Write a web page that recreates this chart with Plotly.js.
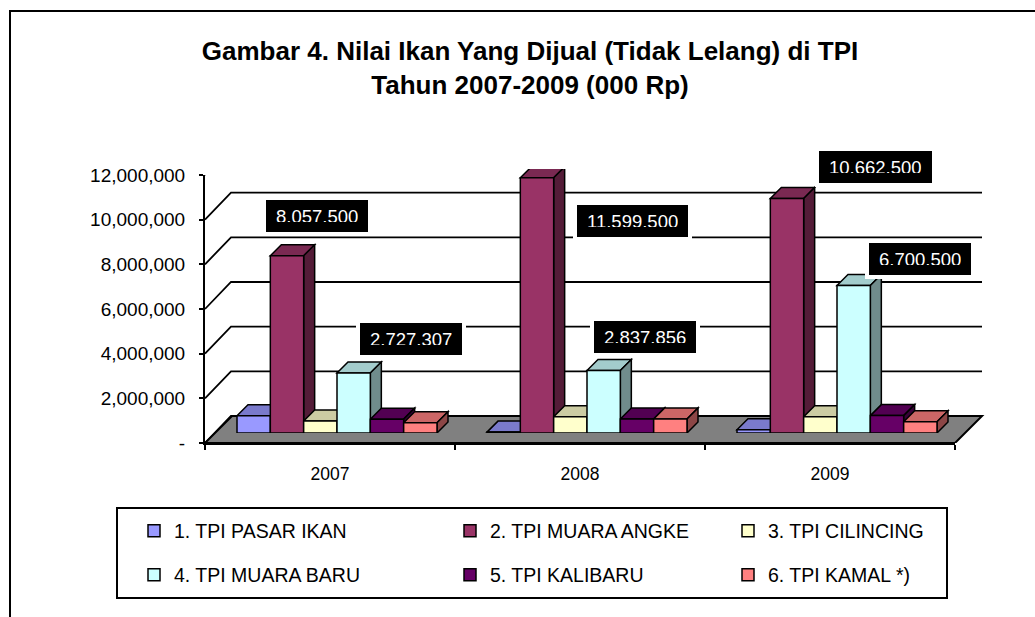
<!DOCTYPE html>
<html><head><meta charset="utf-8">
<script src="https://cdn.plot.ly/plotly-3.0.1.min.js"></script>
<style>html,body{margin:0;padding:0;background:#fff}#chart{width:1035px;height:617px}</style>
</head><body><div id="chart"></div>
<script>
// ---------- data ----------
const years = [2007, 2008, 2009];
const yearLabels = ['2007', '2008', '2009'];
const seriesNames = ['1. TPI PASAR IKAN', '2. TPI MUARA ANGKE', '3. TPI CILINCING',
                     '4. TPI MUARA BARU', '5. TPI KALIBARU', '6. TPI KAMAL *)'];
const pasarIkan  = [780000, 40000, 150000];
const muaraAngke = [8057500, 11599500, 10662500];
const cilincing  = [550000, 740000, 740000];
const muaraBaru  = [2727307, 2837856, 6700500];
const kalibaru   = [630000, 640000, 790000];
const kamal      = [470000, 640000, 510000];
const yTickVals  = [0, 2000000, 4000000, 6000000, 8000000, 10000000, 12000000];
const yTickText  = ['-', '2,000,000', '4,000,000', '6,000,000', '8,000,000', '10,000,000', '12,000,000'];
const labelledSeries = [1, 3];

// ---------- style / layout ----------
const series = [pasarIkan, muaraAngke, cilincing, muaraBaru, kalibaru, kamal];
const colors = ['#9999FF', '#993366', '#FFFFCC', '#CCFFFF', '#660066', '#FF8080'];
const W = 1035, H = 617;
const fx = p => p / W, fy = p => 1 - p / H;
const BAR = {x0: 212, x1: 962, y0: 433, y1: 169};
const FRONT = {x0: 205, x1: 955, y0: 443, y1: 175};
const WALL_D = 27, BACK_RIGHT = 982;
const D = 11;
const yMax = 12000000;
const groupW = 0.8, barW = groupW / series.length;
const pxPerYear = (BAR.x1 - BAR.x0) / years.length;
const barPx = barW * pxPerYear;
const pxPerUnit = (BAR.y0 - BAR.y1) / yMax;
const FONT = 'Liberation Sans, Arial, sans-serif';

function shade(hex, f) {
  const n = parseInt(hex.slice(1), 16);
  const r = Math.round(((n >> 16) & 255) * f), g = Math.round(((n >> 8) & 255) * f), b = Math.round((n & 255) * f);
  return `rgb(${r},${g},${b})`;
}
const fmt = v => String(v).replace(/\B(?=(\d{3})+(?!\d))/g, ',');

const legendPos = [[134, 531], [450, 531], [728, 531], [134, 575], [450, 575], [728, 575]];

const traces = series.map((vals, j) => ({
  type: 'bar', name: seriesNames[j], x: years, y: vals,
  marker: {color: colors[j], line: {color: '#000', width: 1.5}},
  legend: j === 0 ? 'legend' : 'legend' + (j + 1),
  hoverinfo: 'skip'
}));
traces.push({type: 'scatter', mode: 'markers', x: yearLabels, y: [null, null, null],
  xaxis: 'x2', yaxis: 'y2', showlegend: false, hoverinfo: 'skip'});

const shapes = [];
// frame
shapes.push({type: 'rect', xref: 'paper', yref: 'paper', x0: fx(10), x1: fx(1045), y0: fy(11), y1: fy(640),
  line: {color: '#000', width: 2}, layer: 'below'});
// back wall gridlines (diagonal + horizontal)
yTickVals.forEach(v => {
  shapes.push({type: 'path', xref: 'paper', yref: 'y2', xsizemode: 'pixel', ysizemode: 'pixel',
    xanchor: fx(FRONT.x0), yanchor: v,
    path: `M0,0 L${WALL_D - 1},${WALL_D} L${BACK_RIGHT - FRONT.x0},${WALL_D}`,
    line: {color: '#000', width: 1.8}, layer: 'below'});
});
// floor
shapes.push({type: 'path', xref: 'paper', yref: 'y2', xsizemode: 'pixel', ysizemode: 'pixel',
  xanchor: fx(FRONT.x0), yanchor: 0,
  path: `M0,0 L${FRONT.x1 - FRONT.x0},0 L${BACK_RIGHT - FRONT.x0},${WALL_D} L${WALL_D},${WALL_D} Z`,
  fillcolor: '#808080', line: {color: '#000', width: 2}, layer: 'below'});
// legend box
shapes.push({type: 'rect', xref: 'paper', yref: 'paper', x0: fx(117), x1: fx(947), y0: fy(508), y1: fy(598),
  line: {color: '#000', width: 2}, layer: 'below'});
// 3D faces of bars
years.forEach((yr, i) => {
  series.forEach((vals, j) => {
    const left = yr - groupW / 2 + j * barW;
    const h = vals[i] * pxPerUnit;
    shapes.push({type: 'path', xref: 'x', yref: 'y', xsizemode: 'pixel', ysizemode: 'pixel',
      xanchor: left, yanchor: vals[i],
      path: `M0,0 L${barPx},0 L${barPx + D},${D} L${D},${D} Z`,
      fillcolor: shade(colors[j], 0.8), line: {color: '#000', width: 1.5}, layer: 'below'});
    shapes.push({type: 'path', xref: 'x', yref: 'y', xsizemode: 'pixel', ysizemode: 'pixel',
      xanchor: left, yanchor: vals[i],
      path: `M${barPx},0 L${barPx + D},${D} L${barPx + D},${D - h} L${barPx},${-h} Z`,
      fillcolor: shade(colors[j], 0.55), line: {color: '#000', width: 1.5}, layer: 'below'});
  });
});

// data labels
const labelShift = {1: [[30, 40], [95, -43], [88, 31]], 3: [[57, 34], [41, 34], [66, 27]]};
const annotations = [];
labelledSeries.forEach(j => {
  years.forEach((yr, i) => {
    annotations.push({
      xref: 'x', yref: 'y', x: yr - groupW / 2 + (j + 0.5) * barW, y: series[j][i],
      text: fmt(series[j][i]), showarrow: false,
      xshift: labelShift[j][i][0], yshift: labelShift[j][i][1],
      font: {family: FONT, size: 18.5, color: '#fff'},
      bgcolor: '#000', bordercolor: '#fff', borderwidth: 4, borderpad: 10, height: 12
    });
  });
});

const layout = {
  width: W, height: H,
  margin: {l: 0, r: 0, t: 0, b: 0, pad: 0},
  paper_bgcolor: '#fff', plot_bgcolor: 'rgba(0,0,0,0)',
  font: {family: FONT, color: '#000', size: 18},
  hovermode: false,
  barmode: 'group', bargap: 1 - groupW, bargroupgap: 0,
  title: {text: 'Gambar 4. Nilai Ikan Yang Dijual (Tidak Lelang) di TPI<br>Tahun 2007-2009 (000 Rp)',
    font: {family: FONT, size: 26, weight: 'bold', color: '#000'},
    xref: 'paper', yref: 'container', x: fx(530), xanchor: 'center', y: fy(60), yanchor: 'middle'},
  xaxis: {domain: [fx(BAR.x0), fx(BAR.x1)], range: [years[0] - 0.5, years[years.length - 1] + 0.5],
    visible: false, fixedrange: true},
  yaxis: {domain: [fy(BAR.y0), fy(BAR.y1)], range: [0, yMax], visible: false, fixedrange: true},
  xaxis2: {domain: [fx(FRONT.x0), fx(FRONT.x1)], type: 'category', categoryarray: yearLabels,
    range: [-0.5, 2.5], anchor: 'y2', showline: true, linecolor: '#000', linewidth: 2,
    ticks: 'outside', ticklen: 5, tickwidth: 2, tickcolor: '#000', tickson: 'boundaries',
    showgrid: false, zeroline: false, tickfont: {family: FONT, size: 17.5, color: '#000'},
    ticklabelstandoff: 14, fixedrange: true},
  yaxis2: {domain: [fy(FRONT.y0), fy(FRONT.y1)], range: [0, yMax], anchor: 'x2',
    tickvals: yTickVals, ticktext: yTickText, showline: true, linecolor: '#000', linewidth: 2,
    ticks: 'outside', ticklen: 4, tickwidth: 2, tickcolor: '#000', showgrid: false, zeroline: false,
    tickfont: {family: FONT, size: 19, color: '#000'}, ticklabelstandoff: 10, fixedrange: true},
  shapes: shapes,
  annotations: annotations
};
legendPos.forEach((p, k) => {
  layout[k === 0 ? 'legend' : 'legend' + (k + 1)] = {
    x: fx(p[0]), y: fy(p[1]), xanchor: 'left', yanchor: 'middle', orientation: 'v',
    bgcolor: 'rgba(0,0,0,0)', borderwidth: 0, font: {family: FONT, size: 19.5, color: '#000'}
  };
});

Plotly.newPlot('chart', traces, layout, {displayModeBar: false, staticPlot: true});
</script>
</body></html>
